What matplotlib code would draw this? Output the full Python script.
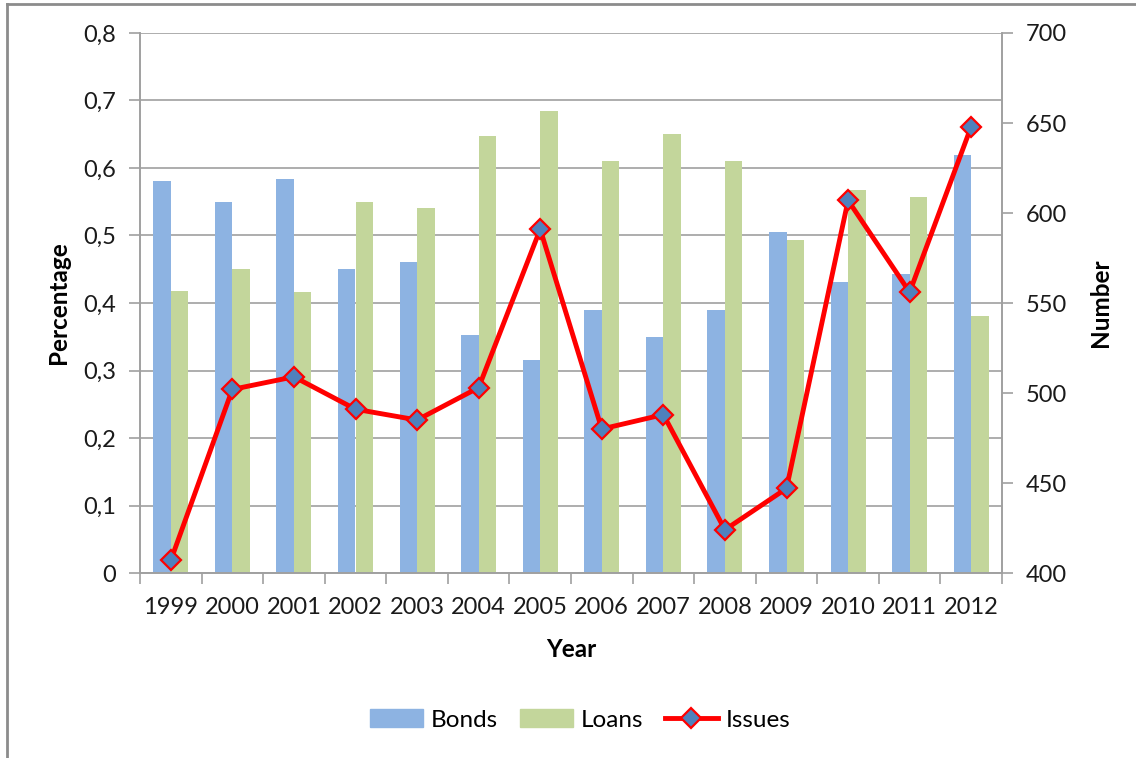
import numpy as np
import matplotlib.pyplot as plt
from matplotlib.lines import Line2D
from matplotlib.patches import Patch

plt.rcParams['font.family'] = ['Lato', 'DejaVu Sans']

years = ['1999', '2000', '2001', '2002', '2003', '2004', '2005',
         '2006', '2007', '2008', '2009', '2010', '2011', '2012']
bonds = [0.581, 0.549, 0.584, 0.451, 0.460, 0.353, 0.315,
         0.389, 0.349, 0.389, 0.505, 0.431, 0.443, 0.619]
loans = [0.418, 0.451, 0.416, 0.549, 0.540, 0.647, 0.684,
         0.610, 0.650, 0.610, 0.494, 0.568, 0.557, 0.380]
issues = [407, 502, 509, 491, 485, 503, 591,
          480, 488, 424, 447, 607, 556, 648]

pct_ticks = [0, 0.1, 0.2, 0.3, 0.4, 0.5, 0.6, 0.7, 0.8]
pct_labels = ['0', '0,1', '0,2', '0,3', '0,4', '0,5', '0,6', '0,7', '0,8']
num_ticks = [400, 450, 500, 550, 600, 650, 700]

bond_col = '#8DB3E2'
loan_col = '#C3D69B'
grid_col = '#A0A0A0'

fig = plt.figure(figsize=(11.36, 7.58), dpi=100)
ax = fig.add_axes([140/1136, 1-573/758, 862/1136, 540/758])
ax2 = ax.twinx()

x = np.arange(len(years))
w = 0.285
ax.bar(x - w/2, bonds, w, color=bond_col, label='Bonds')
ax.bar(x + w/2, loans, w, color=loan_col, label='Loans')
ax.set_xlim(-0.5, len(years) - 0.5)
ax.set_ylim(0, 0.8)
ax.set_yticks(pct_ticks)
ax.set_yticklabels(pct_labels)
ax.set_axisbelow(True)
ax.grid(axis='y', color=grid_col, lw=1.2)

ax.set_xticks(x)
ax.set_xticklabels(years)
ax.set_xticks(np.arange(len(years) + 1) - 0.5, minor=True)
ax.tick_params(axis='x', which='major', length=0, pad=17)
ax.tick_params(axis='x', which='minor', length=8, color=grid_col, width=1.2)
ax.tick_params(axis='y', length=8, color=grid_col, width=1.2, pad=9)
ax.tick_params(labelsize=17, labelcolor='#1a1a1a')

ax2.plot(x, issues, color='red', lw=3.5, marker='D', ms=10,
         mfc='#4F81BD', mec='red', mew=1.6, label='Issues')
ax2.set_ylim(400, 700)
ax2.set_yticks(num_ticks)
ax2.tick_params(axis='y', length=8, color=grid_col, width=1.2, pad=9,
                labelsize=17, labelcolor='#1a1a1a')

for a in (ax, ax2):
    a.spines['top'].set_visible(False)
    for s in ('left', 'right', 'bottom'):
        a.spines[s].set_color(grid_col)
        a.spines[s].set_linewidth(1.2)

ax.set_xlabel('Year', fontsize=17.5, fontweight='bold', labelpad=15)
ax.set_ylabel('Percentage', fontsize=17.5, fontweight='bold', labelpad=10)
ax2.set_ylabel('Number', fontsize=17.5, fontweight='bold', labelpad=16)

handles = [Patch(color=bond_col), Patch(color=loan_col),
           Line2D([], [], color='red', lw=3.5, marker='D', ms=10,
                  mfc='#4F81BD', mec='red', mew=1.6)]
fig.legend(handles, ['Bonds', 'Loans', 'Issues'], loc='center',
           bbox_to_anchor=(580/1136, 1-720/758), ncol=3, frameon=False,
           fontsize=17.5, handlelength=2.2, handleheight=0.75,
           handletextpad=0.3, columnspacing=0.9)

# chart frame (only left and top edges are visible in the crop)
fig.add_artist(Line2D([7/1136, 7/1136], [0, 1-4/758], color='#8c8c8c', lw=2,
                      transform=fig.transFigure))
fig.add_artist(Line2D([7/1136, 1], [1-4/758, 1-4/758], color='#8c8c8c', lw=2,
                      transform=fig.transFigure))

fig.savefig('out.png', dpi=100)
